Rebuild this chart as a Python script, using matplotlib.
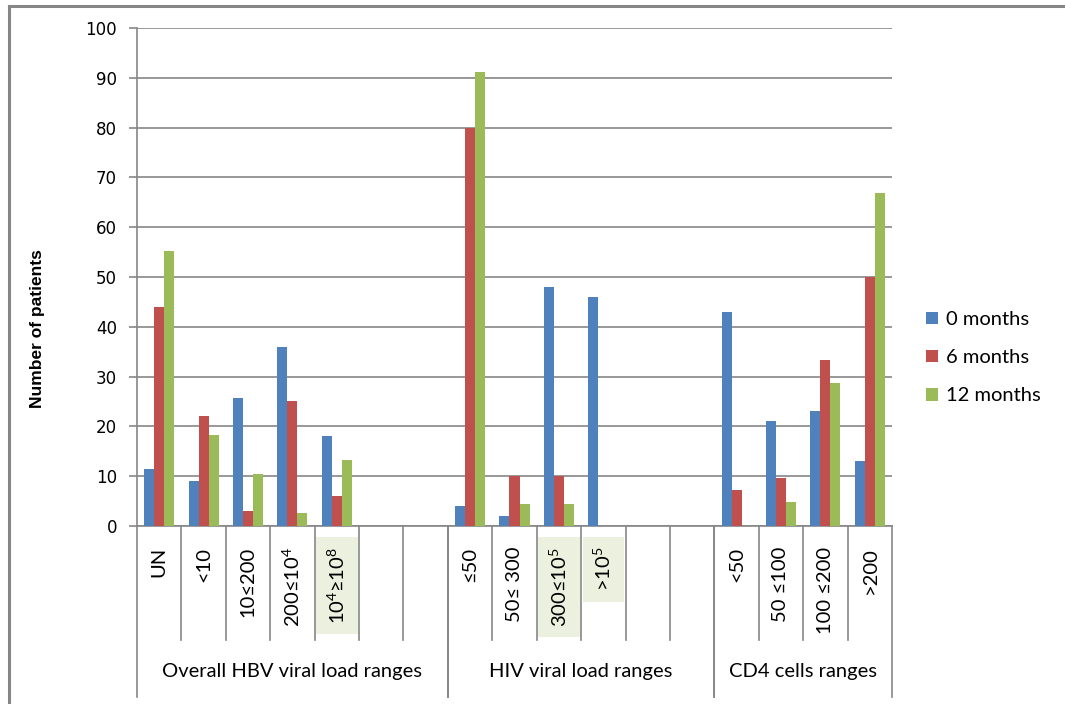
import numpy as np
import matplotlib
matplotlib.use("Agg")
import matplotlib.pyplot as plt
from matplotlib.lines import Line2D
import matplotlib.transforms as mtransforms

plt.rcParams["mathtext.default"] = "regular"

# ---- data -------------------------------------------------------------
groups = ["Overall HBV viral load ranges", "HIV viral load ranges", "CD4 cells ranges"]
hbv_labels = ["UN", "<10", "10≤200", "200≤10$^{4}$", "10$^{4}$≥10$^{8}$", "", ""]
hiv_labels = ["≤50", "50≤ 300", "300≤10$^{5}$", ">10$^{5}$", "", ""]
cd4_labels = ["<50", "50 ≤100", "100 ≤200", ">200"]
highlighted = ["10$^{4}$≥10$^{8}$", "300≤10$^{5}$", ">10$^{5}$"]

series_names = ["0 months", "6 months", "12 months"]
nan = np.nan
months0 = [11.4, 9.0, 25.8, 35.9, 18.0, nan, nan,
           4.0, 2.0, 48.0, 46.0, nan, nan,
           43.0, 21.0, 23.0, 13.1]
months6 = [43.9, 22.0, 3.0, 25.1, 6.0, nan, nan,
           80.0, 10.0, 10.0, nan, nan, nan,
           7.2, 9.7, 33.4, 50.0]
months12 = [55.3, 18.3, 10.5, 2.6, 13.3, nan, nan,
            91.2, 4.4, 4.4, nan, nan, nan,
            nan, 4.8, 28.8, 66.9]

colors = ["#4F81BD", "#C0504D", "#9BBB59"]
grid_gray = "#868686"
label_font = ["Lato", "DejaVu Sans"]
label_size = 14.5

# ---- figure -----------------------------------------------------------
W, H = 1065, 704
PX = 72 / 100  # points per pixel at 100 dpi
fig = plt.figure(figsize=(W / 100, H / 100), dpi=100)
ax_left, ax_right, ax_top, ax_bottom = 137, 892, 28, 526
ax = fig.add_axes([ax_left / W, 1 - ax_bottom / H,
                   (ax_right - ax_left) / W, (ax_bottom - ax_top) / H])

group_slots = [hbv_labels, hiv_labels, cd4_labels]
categories = [c for g in group_slots for c in g]
n = len(categories)
x = np.arange(n)
bw = 0.226
for k, (vals, col, name) in enumerate(zip([months0, months6, months12], colors, series_names)):
    ax.bar(x + (k - 1) * bw, vals, width=bw, color=col, label=name, zorder=3)

ax.set_xlim(-0.5, n - 0.5)
ax.set_ylim(0, 100)
ax.set_yticks(np.arange(0, 101, 10))
ax.yaxis.grid(True, color=grid_gray, lw=1.2, zorder=0)
ax.set_axisbelow(True)
for s in ["top", "right"]:
    ax.spines[s].set_visible(False)
for s in ["left", "bottom"]:
    ax.spines[s].set_color(grid_gray)
    ax.spines[s].set_linewidth(1.2)
ax.tick_params(axis="y", length=8 * PX, width=1.2, color=grid_gray, pad=12 * PX,
               labelsize=12, labelcolor="black")
for t in ax.get_yticklabels():
    t.set_fontfamily("DejaVu Sans")
ax.set_xticks([])

ax.set_ylabel("Number of patients", fontsize=12.5, fontweight="bold",
              family=["Liberation Sans", "DejaVu Sans"], labelpad=0)
ax.yaxis.set_label_coords((45 - ax_left) / (ax_right - ax_left), (526 - 329) / 498)

# ---- two-level category axis -----------------------------------------
trans = mtransforms.blended_transform_factory(ax.transData, ax.transAxes)
def frac(py):
    return (ax_bottom - py) / (ax_bottom - ax_top)

y_lab_top = frac(547)
y_lvl1 = frac(640)
y_lvl2 = frac(697)
y_grp = frac(672)

start = 0
for gname, labels in zip(groups, group_slots):
    end = start + len(labels)
    # group boundaries reach down to the bottom row
    for b in (start - 0.5, end - 0.5):
        ax.add_line(Line2D([b, b], [0, y_lvl2], transform=trans, color=grid_gray,
                           lw=1.2, clip_on=False))
    for i in range(start + 1, end):
        ax.add_line(Line2D([i - 0.5, i - 0.5], [0, y_lvl1], transform=trans,
                           color=grid_gray, lw=1.2, clip_on=False))
    for i, lab in enumerate(labels):
        if not lab:
            continue
        kw = {}
        if lab in highlighted:
            kw["bbox"] = dict(boxstyle="square,pad=0.5", fc="#EBF1DE", ec="none")
        ax.text(start + i, y_lab_top, lab, transform=trans, rotation=90,
                ha="center", va="top", fontsize=label_size, family=label_font, **kw)
    ax.text((start + end - 1) / 2, y_grp, gname, transform=trans, ha="center",
            va="center", fontsize=label_size, family=label_font)
    start = end

# ---- legend -----------------------------------------------------------
leg = ax.legend(loc="upper left", bbox_to_anchor=(926 / W, 1 - 311 / H),
                bbox_transform=fig.transFigure, frameon=False,
                handlelength=0.6, handleheight=0.6, handletextpad=0.4,
                labelspacing=1.05, borderaxespad=0, borderpad=0,
                prop=dict(family=label_font, size=label_size))

# ---- outer frame ------------------------------------------------------
fig.add_artist(Line2D([8.5 / W, 1], [1 - 5.5 / H, 1 - 5.5 / H], color=grid_gray,
                      lw=2.2, transform=fig.transFigure))
fig.add_artist(Line2D([8.5 / W, 8.5 / W], [0, 1 - 5.5 / H], color=grid_gray,
                      lw=2.2, transform=fig.transFigure))

fig.savefig("out.png", dpi=100)
